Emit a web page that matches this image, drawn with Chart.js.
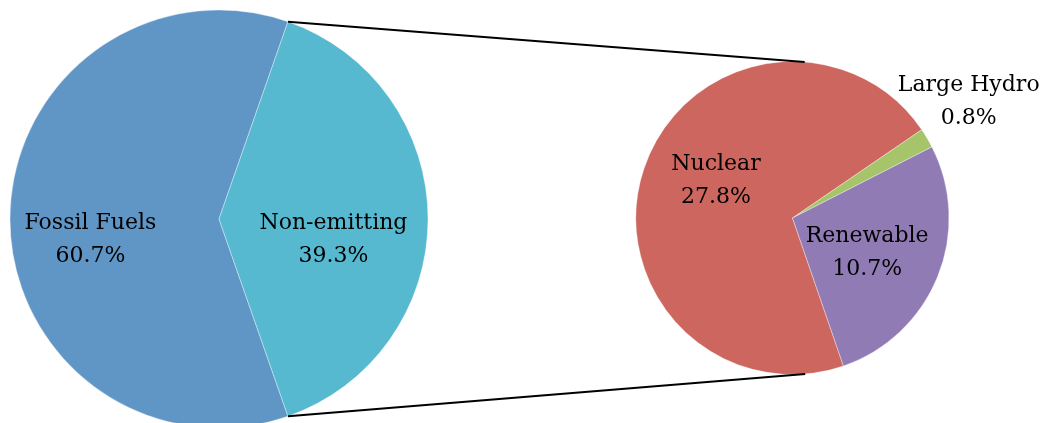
<!DOCTYPE html>
<html>
<head>
<meta charset="utf-8">
<script src="https://cdn.jsdelivr.net/npm/chart.js@4/dist/chart.umd.min.js"></script>
<style>
  html, body { margin: 0; padding: 0; background: #fff; overflow: hidden; }
  #wrap { position: relative; width: 1048px; height: 423px; overflow: hidden; }
  #wrap canvas { position: absolute; left: 0; top: 0; }
</style>
</head>
<body>
<div id="wrap">
  <canvas id="mix" width="1048" height="440"></canvas>
  <canvas id="split" width="1048" height="440"></canvas>
</div>
<script>
// Generation mix (main pie)
const mixCategories = ['Fossil Fuels', 'Non-emitting'];
const mixValues = [60.7, 39.3];
const mixColors = ['#6096C6', '#56B9D0'];

// Breakdown of the non-emitting share (secondary pie)
const splitCategories = ['Nuclear', 'Large Hydro', 'Renewable'];
const splitValues = [27.8, 0.8, 10.7];
const splitColors = ['#CD665E', '#A6C46A', '#907BB4'];

const LABEL_FONT = '22px "DejaVu Serif"';
const SEAM = 'rgba(255,255,255,0.35)';

// Two-line "name / value%" labels placed along each slice's mid angle
const sliceLabels = {
  id: 'sliceLabels',
  afterDatasetsDraw(chart, args, opts) {
    const ctx = chart.ctx;
    const meta = chart.getDatasetMeta(0);
    const values = chart.data.datasets[0].data;
    ctx.save();
    ctx.font = opts.font;
    ctx.fillStyle = opts.color;
    ctx.textAlign = 'center';
    ctx.textBaseline = 'alphabetic';
    meta.data.forEach((arc, i) => {
      const p = arc.getProps(['x', 'y', 'startAngle', 'endAngle', 'outerRadius'], true);
      const [f, da] = opts.place[i];
      const a = (p.startAngle + p.endAngle) / 2 + da * Math.PI / 180;
      const ax = p.x + Math.cos(a) * f * p.outerRadius;
      const ay = p.y + Math.sin(a) * f * p.outerRadius;
      ctx.fillText(chart.data.labels[i], ax, ay + 8 - opts.gap / 2);
      ctx.fillText(values[i].toFixed(1) + '%', ax, ay + 8 + opts.gap / 2);
    });
    ctx.restore();
  }
};

let mixChart = null;

// Lines from the edges of the non-emitting slice, tangent to the secondary pie
const connectors = {
  id: 'connectors',
  afterDatasetsDraw(chart, args, opts) {
    if (!mixChart) return;
    const s = mixChart.getDatasetMeta(0).data[opts.sliceIndex]
      .getProps(['x', 'y', 'startAngle', 'endAngle', 'outerRadius'], true);
    const t = chart.getDatasetMeta(0).data[0].getProps(['x', 'y', 'outerRadius'], true);
    const ends = [s.startAngle, s.endAngle].map(a => ({
      x: s.x + Math.cos(a) * s.outerRadius,
      y: s.y + Math.sin(a) * s.outerRadius
    }));
    const tangents = P => {
      const dx = P.x - t.x, dy = P.y - t.y;
      const d = Math.hypot(dx, dy);
      const phi = Math.atan2(dy, dx);
      const alpha = Math.acos(t.outerRadius / d);
      return [phi + alpha, phi - alpha].map(a => ({
        x: t.x + Math.cos(a) * t.outerRadius,
        y: t.y + Math.sin(a) * t.outerRadius
      }));
    };
    const ctx = chart.ctx;
    ctx.save();
    ctx.strokeStyle = opts.color;
    ctx.lineWidth = opts.width;
    ends.forEach(P => {
      const c = tangents(P);
      const Q = P.y < t.y ? (c[0].y < c[1].y ? c[0] : c[1]) : (c[0].y > c[1].y ? c[0] : c[1]);
      ctx.beginPath();
      ctx.moveTo(P.x, P.y);
      ctx.lineTo(Q.x, Q.y);
      ctx.stroke();
    });
    ctx.restore();
  }
};

const mixTotal = mixValues.reduce((a, b) => a + b, 0);

mixChart = new Chart(document.getElementById('mix'), {
  type: 'pie',
  data: {
    labels: mixCategories,
    datasets: [{
      data: mixValues,
      backgroundColor: mixColors,
      borderColor: SEAM,
      borderWidth: 1
    }]
  },
  options: {
    responsive: false,
    animation: false,
    events: [],
    radius: 209,
    // centre the non-emitting slice on the right-hand side
    rotation: 90 + (mixValues[1] / mixTotal) * 180,
    layout: { padding: { left: 0, top: 0, right: 610, bottom: 2 } },
    plugins: {
      legend: { display: false },
      tooltip: { enabled: false },
      sliceLabels: { font: LABEL_FONT, color: '#000', gap: 33, place: [[0.622, -8.4], [0.555, 9.4]] }
    }
  },
  plugins: [sliceLabels]
});

new Chart(document.getElementById('split'), {
  type: 'pie',
  data: {
    labels: splitCategories,
    datasets: [{
      data: splitValues,
      backgroundColor: splitColors,
      borderColor: SEAM,
      borderWidth: 1
    }]
  },
  options: {
    responsive: false,
    animation: false,
    events: [],
    radius: 156.5,
    rotation: 161,
    layout: { padding: { left: 632.5, top: 58, right: 95.5, bottom: 62 } },
    plugins: {
      legend: { display: false },
      tooltip: { enabled: false },
      sliceLabels: { font: LABEL_FONT, color: '#000', gap: 33, place: [[0.549, 8.7], [1.358, -3.3], [0.521, 1.8]] },
      connectors: { sliceIndex: 1, color: '#000', width: 2 }
    }
  },
  plugins: [sliceLabels, connectors]
});
</script>
</body>
</html>
